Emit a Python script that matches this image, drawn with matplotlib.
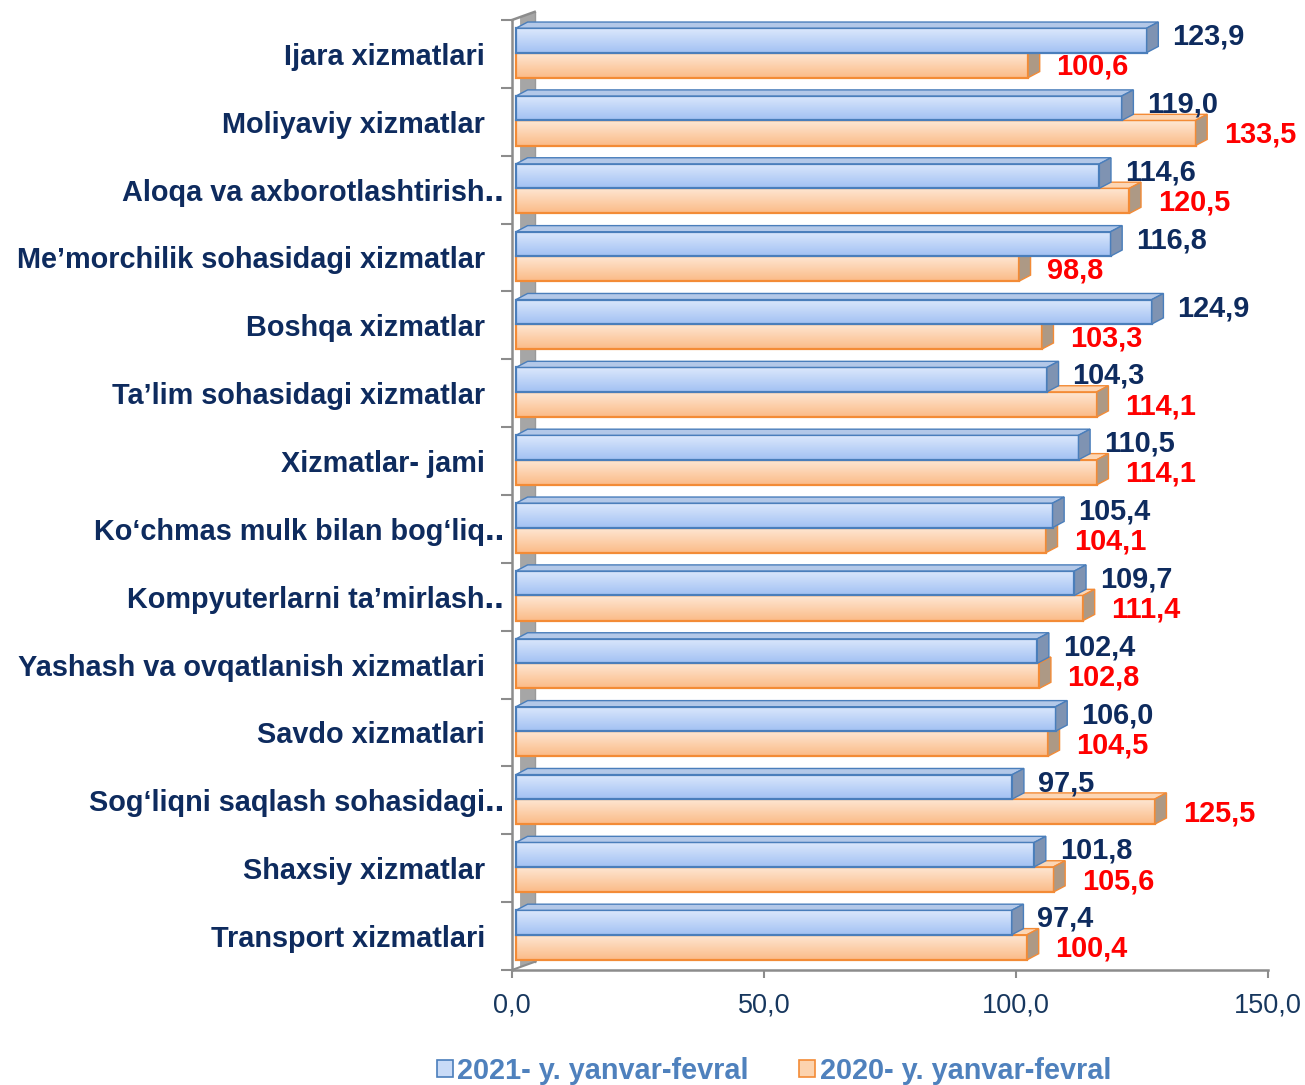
import numpy as np
import matplotlib
matplotlib.use("Agg")
import matplotlib.pyplot as plt
from matplotlib.patches import Rectangle, Polygon, Patch
from matplotlib.colors import LinearSegmentedColormap

# ---------------- data ----------------
categories = [
    "Ijara xizmatlari",
    "Moliyaviy xizmatlar",
    "Aloqa va axborotlashtirish\u2025",
    "Me\u2019morchilik sohasidagi xizmatlar",
    "Boshqa xizmatlar",
    "Ta\u2019lim sohasidagi xizmatlar",
    "Xizmatlar- jami",
    "Ko\u2018chmas mulk bilan bog\u2018liq\u2025",
    "Kompyuterlarni ta\u2019mirlash\u2025",
    "Yashash va ovqatlanish xizmatlari",
    "Savdo xizmatlari",
    "Sog\u2018liqni saqlash sohasidagi\u2025",
    "Shaxsiy xizmatlar",
    "Transport xizmatlari",
]
truncated = [False, False, True, False, False, False, False, True, True, False, False, True, False, False]
values_2021 = [123.9, 119.0, 114.6, 116.8, 124.9, 104.3, 110.5, 105.4, 109.7, 102.4, 106.0, 97.5, 101.8, 97.4]
values_2020 = [100.6, 133.5, 120.5, 98.8, 103.3, 114.1, 114.1, 104.1, 111.4, 102.8, 104.5, 125.5, 105.6, 100.4]
series_names = ["2021- y. yanvar-fevral", "2020- y. yanvar-fevral"]
xticks = [0, 50, 100, 150]
xtick_labels = ["0,0", "50,0", "100,0", "150,0"]

# ---------------- style ----------------
FAM = ["Liberation Sans", "DejaVu Sans"]
plt.rcParams["font.family"] = FAM
NAVY = "#0E2B5E"
RED = "#FF0000"
LEG = "#4F81BD"
AXC = "#8C8C8C"

fig = plt.figure(figsize=(13.05, 10.85), dpi=100)
ax = fig.add_axes([512 / 1305, 1 - 970 / 1085, 756 / 1305, 950 / 1085])

n = len(categories)
DX, DY = 2.3, 0.09           # 3D depth offset in data units
X0 = 0.8                      # front face start

blue_cmap = LinearSegmentedColormap.from_list("b", ["#dce8fc", "#a2c1f3"])
orng_cmap = LinearSegmentedColormap.from_list("o", ["#fee8d5", "#fbbb88"])
grad = np.linspace(0, 1, 64).reshape(-1, 1)

series = [
    # values, y_top, y_bottom, cmap, edge, top color, side color, zbase
    (values_2020, 0.48, 0.85, orng_cmap, "#F38B36", "#fcd6b5", "#ad9985", 3),
    (values_2021, 0.12, 0.48, blue_cmap, "#4A7EBB", "#b3c8e8", "#7f93b2", 6),
]

for i in range(n):
    for vals, yt, yb, cmap, ec, topc, sidec, z in series:
        v = vals[i]
        x1 = X0 + v * 1.01
        y_top, y_bot = i + yt, i + yb
        # front face gradient
        im = ax.imshow(grad, extent=(X0, x1, y_bot, y_top), origin="upper",
                       aspect="auto", cmap=cmap, zorder=z, interpolation="bilinear")
        rect = Rectangle((X0, y_top), x1 - X0, y_bot - y_top, facecolor="none",
                         edgecolor=ec, linewidth=1.6, zorder=z + 0.5)
        ax.add_patch(rect)
        im.set_clip_path(rect)
        # top face
        top = Polygon([(X0, y_top), (X0 + DX, y_top - DY), (x1 + DX, y_top - DY), (x1, y_top)],
                      closed=True, facecolor=topc, edgecolor=ec, linewidth=1.0, zorder=z + 0.6,
                      clip_on=False)
        ax.add_patch(top)
        # side face
        side = Polygon([(x1, y_top), (x1 + DX, y_top - DY), (x1 + DX, y_bot - DY), (x1, y_bot)],
                       closed=True, facecolor=sidec, edgecolor=ec, linewidth=1.0, zorder=z + 0.7,
                       clip_on=False)
        ax.add_patch(side)

    # value labels
    xb = X0 + values_2021[i] * 1.01 + DX
    ax.annotate(f"{values_2021[i]:.1f}".replace(".", ","), xy=(xb, i + 0.245),
                xytext=(10, 0), textcoords="offset points", ha="left", va="center",
                fontsize=20.8, fontweight="bold", color=NAVY, zorder=20)
    xo = X0 + values_2020[i] * 1.01 + DX
    ax.annotate(f"{values_2020[i]:.1f}".replace(".", ","), xy=(xo, i + 0.69),
                xytext=(12, 0), textcoords="offset points", ha="left", va="center",
                fontsize=20.8, fontweight="bold", color=RED, zorder=20)

# back wall (3D side wall)
def slant_top(x):
    return 0.0 - 0.12 * x / 4.5

def slant_bot(x):
    return n - 0.12 * x / 4.5

wx0, wx1 = 1.6, 4.6
wall = Polygon([(wx0, slant_top(wx0)), (wx1, slant_top(wx1)), (wx1, slant_bot(wx1)), (wx0, slant_bot(wx0))],
               closed=True, facecolor="#A6A6A6", edgecolor="none", zorder=1, clip_on=False)
ax.add_patch(wall)
ax.plot([wx1, wx1], [slant_top(wx1), slant_bot(wx1)], color="#999999", lw=1.0, zorder=1.2, clip_on=False)
ax.plot([0, 4.5], [0, slant_top(4.5)], color=AXC, lw=1.8, zorder=1.5, clip_on=False)
ax.plot([0, 4.7], [n, slant_bot(4.7)], color=AXC, lw=1.5, zorder=1.5, clip_on=False)

# axes
ax.set_xlim(0, 150)
ax.set_ylim(n, 0)
for s in ["top", "right"]:
    ax.spines[s].set_visible(False)
for s in ["left", "bottom"]:
    ax.spines[s].set_color(AXC)
    ax.spines[s].set_linewidth(1.8)

ax.set_xticks(xticks)
ax.set_xticklabels(xtick_labels, fontsize=19.5, color="#17375E")
ax.tick_params(axis="x", length=6, width=1.5, color=AXC, pad=10)

ax.set_yticks(np.arange(n) + 0.5)
ax.set_yticklabels(categories, fontsize=20.8, fontweight="bold", color=NAVY)
ax.set_yticks(np.arange(n + 1), minor=True)
ax.tick_params(axis="y", which="major", length=0)
ax.tick_params(axis="y", which="minor", length=8, width=1.5, color=AXC)
for tk, tr in zip(ax.yaxis.get_major_ticks(), truncated):
    tk.set_pad(5.8 if tr else 19.4)

# legend
handles = [Patch(facecolor="#c9dbf7", edgecolor="#4A7EBB", linewidth=1.2),
           Patch(facecolor="#fcd3ae", edgecolor="#F38B36", linewidth=1.2)]
leg = fig.legend(handles, series_names, loc="center", bbox_to_anchor=(774 / 1305, 1 - 1071 / 1085),
                 ncol=2, frameon=False, handlelength=0.55, handleheight=0.55, handletextpad=0.15,
                 columnspacing=1.75, borderaxespad=0,
                 prop={"family": FAM, "size": 20.8, "weight": "bold"})
for t in leg.get_texts():
    t.set_color(LEG)

fig.savefig("out.png", dpi=100)
